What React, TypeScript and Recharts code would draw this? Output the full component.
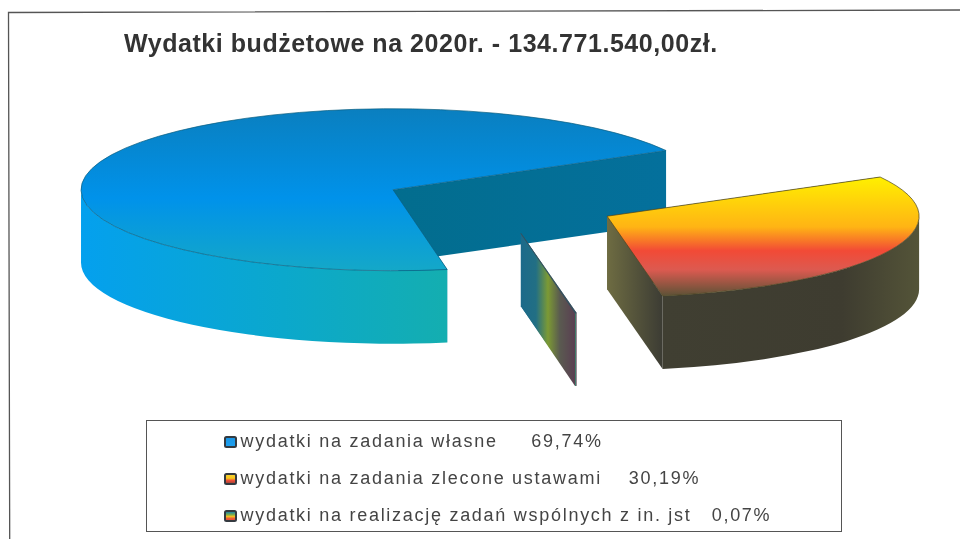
import { PieChart, Pie, Legend } from "recharts";

const sliceNames = [
  "wydatki na zadania własne",
  "wydatki na zadania zlecone ustawami",
  "wydatki na realizację zadań wspólnych z in. jst",
];
const sliceShares = [69.74, 30.19, 0.07];
const shareLabels = ["69,74%", "30,19%", "0,07%"];
const legendGaps = ["     ", "    ", "   "];
const chartTitle = "Wydatki budżetowe na 2020r. - 134.771.540,00zł.";

const tableData = sliceNames.map((name, i) => ({
  name,
  value: sliceShares[i],
  label: shareLabels[i],
  gap: legendGaps[i],
}));

// fake 3D: the pie is flattened and pulled apart
const TILT = 81 / 312;
const DEPTH = 73;
const EXPLODE = 0.38;

const topFills = ["url(#blueTop)", "url(#orangeTop)", "#33505f"];
const wallFills = ["url(#blueWall)", "url(#orangeWall)", "url(#sliverWall)"];
const edgeFills = ["url(#blueEdge)", "url(#orangeEdge)", "url(#sliverWall)"];
const rimColors = ["#0b5f80", "#4a4420", "#33505f"];

const markerFills = [
  "linear-gradient(#1a96e6, #1e9fee)",
  "linear-gradient(#f6d030 0%, #f6c81c 40%, #ef4a38 70%, #a84838 100%)",
  "linear-gradient(#1d86a8 0%, #7fb04a 35%, #f5c020 55%, #e8503a 85%)",
];

const rad = (deg: number) => (deg * Math.PI) / 180;

function Slice3D(props: any) {
  const { cx, cy, outerRadius, startAngle, endAngle, name } = props;
  const idx = sliceNames.indexOf(name);
  const rx = outerRadius;
  const ry = outerRadius * TILT;
  const mid = (startAngle + endAngle) / 2;
  const ax = cx + rx * EXPLODE * Math.cos(rad(mid));
  const ay = cy - ry * EXPLODE * Math.sin(rad(mid));
  const pt = (deg: number) => [
    ax + rx * Math.cos(rad(deg)),
    ay - ry * Math.sin(rad(deg)),
  ];
  const [sx, sy] = pt(startAngle);
  const [ex, ey] = pt(endAngle);
  const large = startAngle - endAngle > 180 ? 1 : 0;

  const edges = [
    [sx, sy],
    [ex, ey],
  ].sort((a, b) => a[1] - b[1]);

  // outer wall only shows on the front half of the ellipse
  const walls: string[] = [];
  [-360, 0, 360].forEach((k) => {
    const hi = Math.min(startAngle, k);
    const lo = Math.max(endAngle, k - 180);
    if (hi > lo) {
      const [hx, hy] = pt(hi);
      const [lx, ly] = pt(lo);
      walls.push(
        `M${hx} ${hy}A${rx} ${ry} 0 0 1 ${lx} ${ly}L${lx} ${ly + DEPTH}A${rx} ${ry} 0 0 0 ${hx} ${hy + DEPTH}Z`
      );
    }
  });

  return (
    <g>
      {edges.map(([x, y], i) => (
        <path
          key={i}
          d={`M${ax} ${ay}L${x} ${y}L${x} ${y + DEPTH}L${ax} ${ay + DEPTH}Z`}
          fill={edgeFills[idx]}
        />
      ))}
      {walls.map((d, i) => (
        <path key={i} d={d} fill={wallFills[idx]} />
      ))}
      <path
        d={`M${ax} ${ay}L${sx} ${sy}A${rx} ${ry} 0 ${large} 1 ${ex} ${ey}Z`}
        fill={topFills[idx]}
        stroke={rimColors[idx]}
        strokeWidth={0.7}
      />
    </g>
  );
}

function LegendBox({ payload }: any) {
  return (
    <div
      style={{
        boxSizing: "border-box",
        width: 696,
        height: 112,
        border: "1.5px solid #555",
        background: "#fff",
        paddingLeft: 76.5,
        paddingTop: 2,
        fontFamily: "'Liberation Sans', Arial, sans-serif",
        fontSize: 18,
        color: "#444",
      }}
    >
      {(payload || []).map((entry: any, i: number) => (
        <div
          key={entry.value}
          style={{
            height: 37,
            lineHeight: "37px",
            whiteSpace: "pre",
            letterSpacing: 1.72,
            display: "flex",
            alignItems: "center",
          }}
        >
          <span
            style={{
              display: "inline-block",
              boxSizing: "border-box",
              width: 13,
              height: 12,
              marginRight: 4,
              border: "2px solid #343a40",
              borderRadius: 2.5,
              background: markerFills[i],
            }}
          />
          {entry.value + tableData[i].gap + tableData[i].label}
        </div>
      ))}
    </div>
  );
}

export default function App() {
  return (
    <div
      style={{
        position: "absolute",
        left: 0,
        top: 0,
        width: 960,
        height: 539,
        background: "#fff",
        filter: "blur(0.35px)",
      }}
    >
      <PieChart width={960} height={539} margin={{ top: 0, right: 0, bottom: 0, left: 0 }}>
        <defs>
          <linearGradient id="blueTop" x1="0" y1="0" x2="0" y2="1">
            <stop offset="0" stopColor="#0a7fbf" />
            <stop offset="0.55" stopColor="#0092ea" />
            <stop offset="1" stopColor="#14a8c8" />
          </linearGradient>
          <linearGradient id="blueWall" x1="0" y1="0" x2="1" y2="0">
            <stop offset="0" stopColor="#04a0ee" />
            <stop offset="0.55" stopColor="#0ba8cc" />
            <stop offset="1" stopColor="#14aeb0" />
          </linearGradient>
          <linearGradient id="blueEdge" x1="0" y1="0" x2="1" y2="0">
            <stop offset="0" stopColor="#026d8e" />
            <stop offset="1" stopColor="#04709c" />
          </linearGradient>
          <linearGradient id="orangeTop" x1="0" y1="0" x2="0" y2="1">
            <stop offset="0" stopColor="#fff000" />
            <stop offset="0.42" stopColor="#ffb414" />
            <stop offset="0.62" stopColor="#f24a36" />
            <stop offset="0.78" stopColor="#dc5a50" />
            <stop offset="1" stopColor="#5c5236" />
          </linearGradient>
          <linearGradient id="orangeWall" x1="0" y1="0" x2="1" y2="0">
            <stop offset="0" stopColor="#403f32" />
            <stop offset="0.7" stopColor="#3e3c30" />
            <stop offset="1" stopColor="#545438" />
          </linearGradient>
          <linearGradient id="orangeEdge" x1="0" y1="0" x2="1" y2="0">
            <stop offset="0" stopColor="#6e6c42" />
            <stop offset="1" stopColor="#3c3c34" />
          </linearGradient>
          <linearGradient id="sliverWall" x1="0" y1="0" x2="1" y2="0">
            <stop offset="0" stopColor="#1c6a8a" />
            <stop offset="0.28" stopColor="#226f84" />
            <stop offset="0.5" stopColor="#7c9a34" />
            <stop offset="0.72" stopColor="#5a5a50" />
            <stop offset="1" stopColor="#5a3f52" />
          </linearGradient>
        </defs>
        <path d="M9.7 539L8.5 12.5L960 10" fill="none" stroke="#555" strokeWidth={1.3} />
        <text
          x={124}
          y={52}
          fontFamily="'Liberation Sans', Arial, sans-serif"
          fontWeight="bold"
          fontSize={25}
          letterSpacing={0.55}
          fill="#333"
        >
          {chartTitle}
        </text>
        <Pie
          data={tableData}
          dataKey="value"
          nameKey="name"
          cx={500}
          cy={203}
          innerRadius={0}
          outerRadius={312}
          startAngle={280}
          endAngle={-80}
          paddingAngle={0}
          stroke="none"
          shape={Slice3D}
          isAnimationActive={false}
        />
        <Legend
          content={<LegendBox />}
          itemSorter={null}
          wrapperStyle={{ left: 146, top: 420, width: 696, height: 112 }}
        />
      </PieChart>
    </div>
  );
}
